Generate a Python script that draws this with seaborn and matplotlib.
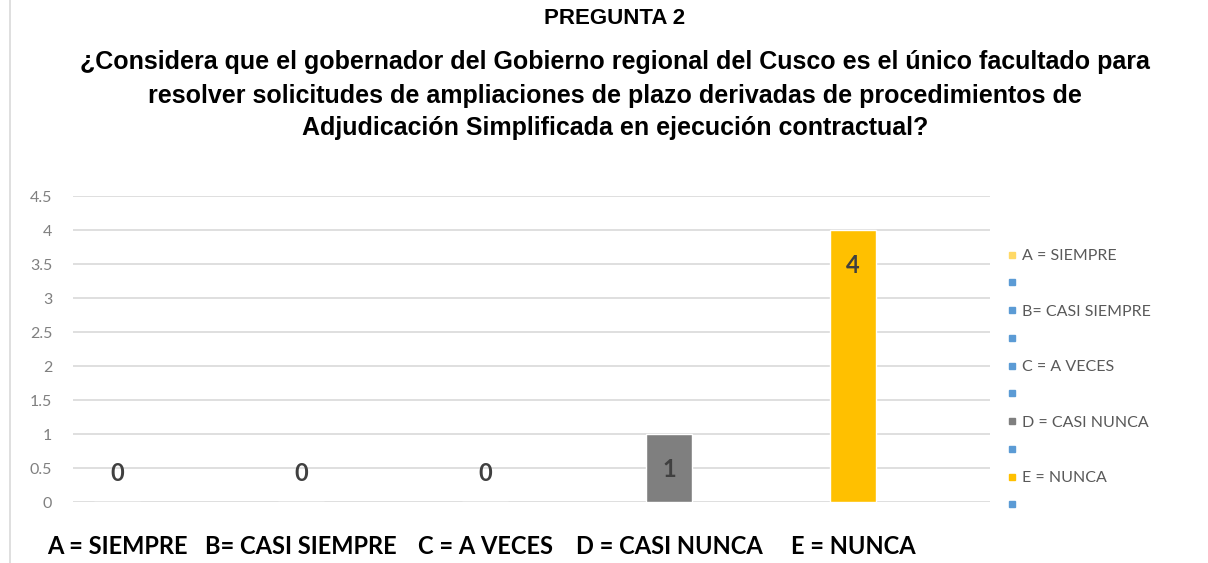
import matplotlib
matplotlib.use("Agg")
import matplotlib.pyplot as plt
from matplotlib.lines import Line2D
import seaborn as sns
import pandas as pd

categories = ["A = SIEMPRE", "B= CASI SIEMPRE", "C = A VECES", "D = CASI NUNCA", "E = NUNCA"]
values = [0, 0, 0, 1, 4]
bar_colors = ["#FFD966", "#5B9BD5", "#5B9BD5", "#7F7F7F", "#FFC000"]
legend_labels = ["A = SIEMPRE", "B= CASI SIEMPRE", "C = A VECES", "D = CASI NUNCA", "E = NUNCA"]
title_lines = [
    "PREGUNTA 2",
    "¿Considera que el gobernador del Gobierno regional del Cusco es el único facultado para",
    "resolver solicitudes de ampliaciones de plazo derivadas de procedimientos de",
    "Adjudicación Simplificada en ejecución contractual?",
]
yticks = [0, 0.5, 1, 1.5, 2, 2.5, 3, 3.5, 4, 4.5]

sns.set_theme(style="white")
plt.rcParams["font.family"] = ["Lato", "DejaVu Sans"]

fig = plt.figure(figsize=(12.08, 5.63), dpi=100)
ax = fig.add_axes([73 / 1208, 1 - 502 / 563, (990 - 73) / 1208, (502 - 196) / 563])

df = pd.DataFrame({"cat": categories, "val": values})
sns.barplot(data=df, x="cat", y="val", hue="cat", palette=bar_colors,
            width=0.25, legend=False, ax=ax, saturation=1, zorder=3)

ax.set_xlim(-44 / 184, 4 + 137 / 184)
ax.set_ylim(0, 4.5)
ax.set_yticks(yticks)
ax.set_yticklabels([("%g" % t) for t in yticks], color="#808080", fontsize=11.5)
ax.yaxis.grid(True, color="#D9D9D9", linewidth=1.2, zorder=0)
ax.set_axisbelow(True)
for s in ax.spines.values():
    s.set_visible(False)
ax.tick_params(axis="y", length=0, pad=15)
ax.tick_params(axis="x", length=0, pad=24)
ax.set_xlabel("")
ax.set_ylabel("")
for lbl in ax.get_xticklabels():
    lbl.set_fontsize(17)
    lbl.set_fontweight("bold")
    lbl.set_color("#000000")

# data labels
for i, v in enumerate(values):
    ypos = v - 0.52 if v >= 1 else 0.42
    ax.text(i, ypos, str(v), ha="center", va="center", fontsize=17,
            fontweight="bold", color="#404040", zorder=5)

# titles
title_y = [18, 62, 96, 128]
title_sizes = [16, 18, 18, 18]
for t, yy, fs in zip(title_lines, title_y, title_sizes):
    fig.text(615 / 1208, 1 - yy / 563, t, ha="center", va="center",
             fontsize=fs, fontweight="bold", family=["Liberation Sans", "DejaVu Sans"],
             color="#000000")

# legend
handles = []
labels = []
legend_marker_colors = ["#FFD966", "#5B9BD5", "#5B9BD5", "#7F7F7F", "#FFC000"]
for lab, col in zip(legend_labels, legend_marker_colors):
    handles.append(Line2D([], [], marker="s", linestyle="", color=col, markersize=4))
    labels.append(lab)
    handles.append(Line2D([], [], marker="s", linestyle="", color="#5B9BD5", markersize=4))
    labels.append(" ")
leg = fig.legend(handles, labels, loc="upper left", bbox_to_anchor=(999 / 1208, 1 - 241 / 563),
                 frameon=False, fontsize=11.5, labelcolor="#595959", handlelength=0.6,
                 handletextpad=0.35, labelspacing=0.85, borderpad=0)

# chart border line on left
fig.add_artist(Line2D([10 / 1208, 10 / 1208], [0, 1], color="#D9D9D9", linewidth=1.2))

fig.savefig("out.png", dpi=100)
